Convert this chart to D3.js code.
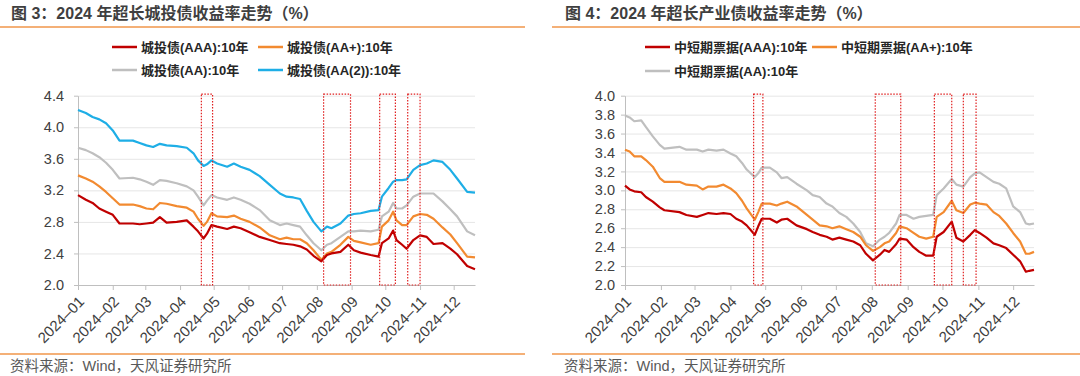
<!DOCTYPE html>
<html>
<head>
<meta charset="utf-8">
<script src="https://cdn.jsdelivr.net/npm/d3@7"></script>
<style>
body { margin: 0; background: #fff; }
svg text { font-family: "Liberation Sans", Arial, "Noto Sans CJK SC", sans-serif; }
</style>
</head>
<body>
<div id="chart"></div>
<script>
// ---- data: left panel (城投债) ----
var leftDates = ["2024-01-01","2024-01-08","2024-01-14","2024-01-20","2024-01-26","2024-02-01","2024-02-07","2024-02-19","2024-02-25","2024-03-02",
    "2024-03-08","2024-03-14","2024-03-20","2024-03-29","2024-04-07","2024-04-13","2024-04-17","2024-04-22","2024-04-25","2024-04-29",
    "2024-05-04","2024-05-13","2024-05-19","2024-05-25","2024-06-02","2024-06-11","2024-06-20","2024-06-29","2024-07-05","2024-07-11",
    "2024-07-17","2024-07-23","2024-07-29","2024-08-05","2024-08-10","2024-08-14","2024-08-22","2024-08-29","2024-09-03","2024-09-09",
    "2024-09-18","2024-09-25","2024-09-28","2024-10-04","2024-10-08","2024-10-11","2024-10-16","2024-10-20","2024-10-26","2024-11-01",
    "2024-11-07","2024-11-13","2024-11-21","2024-11-28","2024-12-04","2024-12-13","2024-12-20"];
var cityAAA = [3.14,3.08,3.04,2.97,2.93,2.89,2.78,2.78,2.77,2.78,
    2.79,2.86,2.79,2.80,2.82,2.74,2.68,2.59,2.65,2.76,
    2.74,2.71,2.74,2.72,2.67,2.61,2.57,2.53,2.52,2.51,
    2.49,2.45,2.37,2.30,2.38,2.40,2.42,2.51,2.44,2.41,
    2.38,2.36,2.53,2.59,2.69,2.57,2.51,2.46,2.57,2.63,
    2.61,2.52,2.53,2.46,2.39,2.24,2.20];
var cityAAplus = [3.39,3.35,3.31,3.25,3.18,3.10,3.02,3.02,3.00,2.97,
    2.96,3.04,3.03,3.00,2.98,2.93,2.84,2.75,2.80,2.91,
    2.87,2.86,2.88,2.84,2.80,2.73,2.63,2.58,2.60,2.58,
    2.58,2.53,2.44,2.32,2.40,2.42,2.51,2.61,2.56,2.54,
    2.51,2.53,2.74,2.82,2.93,2.82,2.76,2.76,2.87,2.90,
    2.89,2.84,2.73,2.64,2.53,2.36,2.35];
var cityAA = [3.74,3.71,3.67,3.62,3.55,3.46,3.35,3.36,3.34,3.31,
    3.27,3.33,3.32,3.29,3.25,3.20,3.12,3.01,3.07,3.14,
    3.11,3.08,3.11,3.08,3.03,2.95,2.82,2.76,2.78,2.76,
    2.74,2.63,2.53,2.44,2.51,2.53,2.61,2.68,2.68,2.69,
    2.68,2.70,2.87,2.93,3.04,2.97,2.97,3.01,3.12,3.16,
    3.16,3.16,3.06,2.96,2.87,2.68,2.63];
var cityAA2 = [4.22,4.18,4.13,4.10,4.05,3.96,3.83,3.83,3.80,3.77,
    3.75,3.79,3.77,3.76,3.74,3.67,3.58,3.51,3.53,3.58,
    3.54,3.50,3.54,3.50,3.46,3.38,3.27,3.16,3.12,3.11,
    3.09,2.94,2.80,2.68,2.74,2.72,2.78,2.88,2.90,2.91,
    2.94,2.95,3.12,3.23,3.31,3.33,3.33,3.34,3.46,3.52,
    3.54,3.58,3.56,3.46,3.35,3.18,3.17];
var leftTicks = [2.0,2.4,2.8,3.2,3.6,4.0,4.4];
var leftWindows = [["2024-04-20","2024-04-30"],["2024-08-07","2024-08-31"],["2024-09-26","2024-10-10"],["2024-10-21","2024-11-01"]];

// ---- data: right panel (中短期票据) ----
var rightDates = ["2024-01-01","2024-01-05","2024-01-09","2024-01-15","2024-01-19","2024-01-25","2024-01-31","2024-02-04","2024-02-17","2024-02-23",
    "2024-03-03","2024-03-08","2024-03-13","2024-03-20","2024-03-26","2024-04-01","2024-04-06","2024-04-11","2024-04-15","2024-04-22",
    "2024-04-25","2024-04-28","2024-05-05","2024-05-11","2024-05-15","2024-05-20","2024-05-28","2024-06-06","2024-06-11","2024-06-17",
    "2024-06-23","2024-06-28","2024-07-04","2024-07-10","2024-07-16","2024-07-22","2024-07-27","2024-08-02","2024-08-08","2024-08-12",
    "2024-08-16","2024-08-22","2024-08-25","2024-08-31","2024-09-06","2024-09-11","2024-09-17","2024-09-23","2024-09-26","2024-10-02",
    "2024-10-09","2024-10-13","2024-10-19","2024-10-25","2024-10-29","2024-11-02","2024-11-08","2024-11-14","2024-11-19","2024-11-25",
    "2024-12-01","2024-12-07","2024-12-12","2024-12-15","2024-12-19"];
var mtnAAA = [3.05,3.01,2.99,2.98,2.93,2.88,2.82,2.79,2.77,2.74,
    2.72,2.74,2.76,2.75,2.76,2.75,2.70,2.67,2.63,2.53,
    2.62,2.70,2.70,2.66,2.69,2.70,2.63,2.59,2.56,2.53,
    2.51,2.48,2.50,2.48,2.46,2.42,2.33,2.26,2.32,2.37,
    2.35,2.43,2.49,2.48,2.40,2.35,2.31,2.31,2.51,2.56,
    2.67,2.50,2.46,2.53,2.58,2.55,2.50,2.44,2.42,2.39,
    2.32,2.25,2.14,2.15,2.16];
var mtnAAplus = [3.43,3.41,3.36,3.36,3.32,3.25,3.13,3.09,3.09,3.06,
    3.05,3.01,3.04,3.04,3.06,3.02,2.97,2.89,2.81,2.69,
    2.77,2.86,2.86,2.84,2.86,2.88,2.83,2.74,2.69,2.63,
    2.62,2.60,2.62,2.59,2.56,2.51,2.42,2.36,2.40,2.44,
    2.46,2.55,2.62,2.60,2.55,2.51,2.49,2.51,2.72,2.77,
    2.89,2.79,2.76,2.85,2.87,2.86,2.85,2.77,2.73,2.65,
    2.55,2.46,2.33,2.33,2.35];
var mtnAA = [3.79,3.77,3.73,3.74,3.67,3.57,3.48,3.44,3.46,3.43,
    3.43,3.41,3.43,3.42,3.43,3.39,3.36,3.29,3.22,3.14,
    3.18,3.24,3.24,3.19,3.13,3.14,3.07,3.00,2.95,2.93,
    2.86,2.83,2.76,2.72,2.65,2.56,2.44,2.41,2.48,2.51,
    2.55,2.65,2.74,2.74,2.70,2.72,2.73,2.74,2.95,3.02,
    3.12,3.06,3.04,3.14,3.18,3.19,3.14,3.09,3.07,3.02,
    2.83,2.77,2.65,2.64,2.65];
var rightTicks = [2.0,2.2,2.4,2.6,2.8,3.0,3.2,3.4,3.6,3.8,4.0];
var rightWindows = [["2024-04-21","2024-04-29"],["2024-08-04","2024-08-26"],["2024-09-24","2024-10-09"],["2024-10-19","2024-10-30"]];

var seriesColors = { red: "#c00000", orange: "#f28a30", gray: "#bfbfbf", blue: "#1eaee6" };

function init() {

    var w = 1080;
    var h = 376;
    var parseDate = d3.timeParse("%Y-%m-%d");
    var formatMonth = d3.timeFormat("%Y\u2013%m");

    var svg = d3.select("#chart")
        .append("svg")
        .attr("width", w)
        .attr("height", h);

    drawPanel({
        title: "图 3：2024 年超长城投债收益率走势（%）",
        titleX: 11, ruleX: [0, 525],
        x0: 78, x1: 475, end: "2024-12-20",
        yMax: 4.4, ticks: leftTicks, labelPad: 10,
        dates: leftDates, windows: leftWindows,
        series: [
            { name: "城投债(AAA):10年", values: cityAAA, color: seriesColors.red, lx: 112, ly: 47 },
            { name: "城投债(AA+):10年", values: cityAAplus, color: seriesColors.orange, lx: 258, ly: 47 },
            { name: "城投债(AA):10年", values: cityAA, color: seriesColors.gray, lx: 112, ly: 70 },
            { name: "城投债(AA(2)):10年", values: cityAA2, color: seriesColors.blue, lx: 258, ly: 70 }
        ],
        drawOrder: [2, 3, 1, 0]
    });

    drawPanel({
        title: "图 4：2024 年超长产业债收益率走势（%）",
        titleX: 565, ruleX: [552, 1080],
        x0: 625, x1: 1034, end: "2024-12-19",
        yMax: 4.0, ticks: rightTicks, labelPad: 6,
        dates: rightDates, windows: rightWindows,
        series: [
            { name: "中短期票据(AAA):10年", values: mtnAAA, color: seriesColors.red, lx: 645, ly: 47 },
            { name: "中短期票据(AA+):10年", values: mtnAAplus, color: seriesColors.orange, lx: 812, ly: 47 },
            { name: "中短期票据(AA):10年", values: mtnAA, color: seriesColors.gray, lx: 645, ly: 71 }
        ],
        drawOrder: [2, 1, 0]
    });

    function drawPanel(p) {
        var top = 95.7, bottom = 285;

        var xScale = d3.scaleTime()
            .domain([parseDate("2024-01-01"), parseDate(p.end)])
            .range([p.x0, p.x1]);

        var yScale = d3.scaleLinear()
            .domain([2.0, p.yMax])
            .range([bottom, top]);

        // title + orange rules
        svg.append("text")
            .attr("x", p.titleX)
            .attr("y", 19)
            .attr("font-size", 16)
            .attr("font-weight", "bold")
            .attr("fill", "#3f3f3f")
            .text(p.title);

        svg.append("line")
            .attr("x1", p.ruleX[0]).attr("x2", p.ruleX[1])
            .attr("y1", 27).attr("y2", 27)
            .attr("stroke", "#f0964a").attr("stroke-width", 1.5);

        svg.append("line")
            .attr("x1", p.ruleX[0]).attr("x2", p.ruleX[1])
            .attr("y1", 354).attr("y2", 354)
            .attr("stroke", "#f0964a").attr("stroke-width", 1.5);

        svg.append("text")
            .attr("x", p.titleX - 1)
            .attr("y", 371)
            .attr("font-size", 14.5)
            .attr("fill", "#595959")
            .text("资料来源：Wind，天风证券研究所");

        // grid
        svg.append("g")
            .attr("transform", "translate(" + p.x0 + ",0)")
            .call(d3.axisLeft(yScale).tickValues(p.ticks).tickSize(-(p.x1 - p.x0)).tickFormat(""))
            .call(function(g) { g.select(".domain").remove(); })
            .selectAll("line")
            .attr("stroke", "#e6e6e6");

        // y axis
        var yAxis = svg.append("g")
            .attr("transform", "translate(" + p.x0 + ",0)")
            .call(d3.axisLeft(yScale).tickValues(p.ticks).tickSize(4).tickSizeOuter(0)
                .tickPadding(p.labelPad).tickFormat(d3.format(".1f")));
        yAxis.select(".domain").attr("stroke", "#bfbfbf");
        yAxis.selectAll(".tick line").attr("stroke", "#bfbfbf");
        yAxis.selectAll("text").attr("font-size", 14.5).attr("fill", "#404040")
            .attr("font-family", "'Liberation Sans', Arial, sans-serif");

        // x axis
        var xAxis = svg.append("g")
            .attr("transform", "translate(0," + bottom + ")")
            .call(d3.axisBottom(xScale).ticks(d3.timeMonth.every(1)).tickFormat(formatMonth)
                .tickSize(5).tickSizeOuter(0));
        xAxis.select(".domain").attr("stroke", "#bfbfbf");
        xAxis.selectAll(".tick line").attr("stroke", "#bfbfbf");
        xAxis.selectAll("text")
            .attr("font-size", 15).attr("fill", "#404040")
            .attr("font-family", "'Liberation Sans', Arial, sans-serif")
            .style("text-anchor", "end")
            .attr("x", 0).attr("y", 0).attr("dy", "0.35em")
            .attr("transform", "translate(3,14) rotate(-45)");

        // lines
        var line = d3.line()
            .x(function(d) { return xScale(d.date); })
            .y(function(d) { return yScale(d.value); });

        p.drawOrder.forEach(function(i) {
            var s = p.series[i];
            var pts = p.dates.map(function(d, k) { return { date: parseDate(d), value: s.values[k] }; });
            svg.append("path")
                .datum(pts)
                .attr("d", line)
                .attr("fill", "none")
                .attr("stroke", s.color)
                .attr("stroke-width", 2.2)
                .attr("stroke-linejoin", "round");
        });

        // dotted event windows
        p.windows.forEach(function(win) {
            var xa = xScale(parseDate(win[0])), xb = xScale(parseDate(win[1]));
            svg.append("rect")
                .attr("x", xa)
                .attr("y", top - 1.5)
                .attr("width", xb - xa)
                .attr("height", bottom - top + 1.5)
                .attr("fill", "none")
                .attr("stroke", "#e02020")
                .attr("stroke-width", 1.2)
                .attr("stroke-dasharray", "1.5,1.5");
        });

        // legend
        p.series.forEach(function(s) {
            svg.append("line")
                .attr("x1", s.lx).attr("x2", s.lx + 25)
                .attr("y1", s.ly).attr("y2", s.ly)
                .attr("stroke", s.color).attr("stroke-width", 2.5);
            svg.append("text")
                .attr("x", s.lx + 29)
                .attr("y", s.ly)
                .attr("dy", "0.36em")
                .attr("font-size", 13)
                .attr("font-weight", "bold")
                .attr("fill", "#262626")
                .text(s.name);
        });
    }
}
window.onload = init;
</script>
</body>
</html>
